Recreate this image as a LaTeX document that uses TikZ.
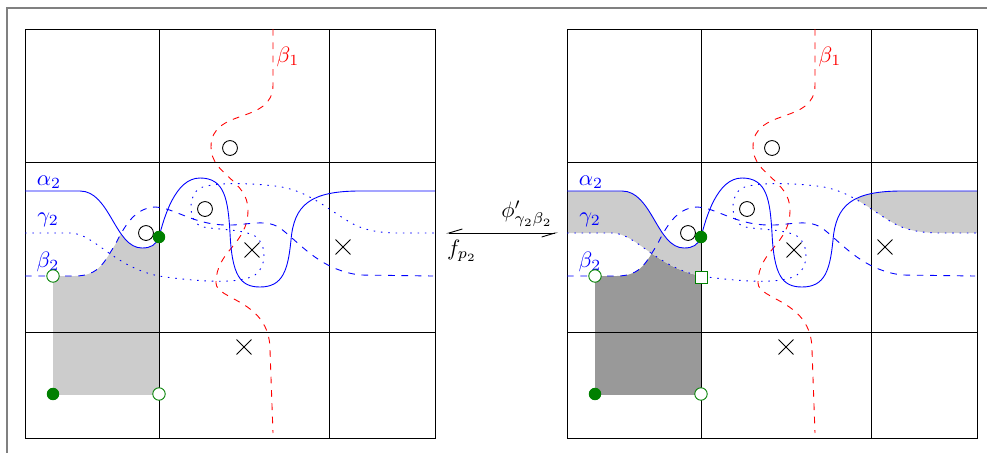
\documentclass[tikz,border=0pt]{standalone}
\usepackage{amsmath}
\usepackage{amssymb}
\usetikzlibrary{arrows.meta,shapes.misc}

% the four curves of one panel
\newcommand{\alphacurve}{(25,191) -- (80,191) .. controls (110,191) and (115,248) .. (142,248) .. controls (151,248) and (156,245) .. (159,237) .. controls (164,218) and (175,178) .. (200,178) .. controls (225,178) and (228,200) .. (230,233) .. controls (232,275) and (240,287) .. (260,287) .. controls (283,287) and (288,270) .. (291,240) .. controls (294,205) and (310,191) .. (360,191) -- (435,191)}
\newcommand{\gammacurve}{(25,233) -- (70,233) .. controls (95,233) and (115,270) .. (165,277) .. controls (205,282) and (240,284) .. (255,275) .. controls (266,268) and (268,245) .. (255,236) .. controls (240,228) and (210,230) .. (200,226) .. controls (188,220) and (188,195) .. (200,188) .. controls (215,182) and (250,183) .. (275,186) .. controls (310,190) and (330,212) .. (355,225) .. controls (370,232) and (385,233) .. (400,233) -- (435,233)}
\newcommand{\betacurve}{(25,276) -- (75,276) .. controls (100,276) and (105,260) .. (115,245) .. controls (125,225) and (135,208) .. (155,207) .. controls (175,208) and (192,224) .. (225,225) .. controls (245,226) and (265,218) .. (280,228) .. controls (300,243) and (320,270) .. (360,275) -- (433,276)}
\newcommand{\betaonecurve}{(273,29) -- (273,85) .. controls (273,125) and (211,107) .. (211,147) .. controls (211,175) and (248,180) .. (248,210) .. controls (248,245) and (216,250) .. (216,283) .. controls (216,300) and (270,300) .. (270,350) -- (273,433)}

% grid, curves, labels and marks of one panel
\newcommand{\panelbase}{%
	\draw [gridline] (25,29) rectangle (435,438);
	\draw [gridline] (159,29) -- (159,438);
	\draw [gridline] (329,29) -- (329,438);
	\draw [gridline] (25,162) -- (435,162);
	\draw [gridline] (25,332) -- (435,332);
	\draw [redline] \betaonecurve;
	\draw [blueline] \alphacurve;
	\draw [blueline, dotline] \gammacurve;
	\draw [blueline, dashed] \betacurve;
	\node [text=red] (b1) at (288,57) {$\beta_1$};
	\node [text=blue] (a2) at (49,182) {$\alpha_2$};
	\node [text=blue] (g2) at (48,220) {$\gamma_2$};
	\node [text=blue] (b2) at (48,262) {$\beta_2$};
	\node [hole] (o1) at (230,148) {};
	\node [hole] (o2) at (205,209) {};
	\node [hole] (o3) at (146,233) {};
	\node [puncture] (x1) at (252,250) {};
	\node [puncture] (x2) at (343,247) {};
	\node [puncture] (x3) at (244,347) {};
	\node [gendot] (d1) at (159,237) {};
	\node [gendot] (d2) at (53,394) {};
	\node [genring] (r1) at (53,276) {};
	\node [genring] (r2) at (159,394) {};
}

\begin{document}
\begin{tikzpicture}[x=0.45pt, y=-0.45pt,
		gridline/.style={black, line width=0.4pt},
		redline/.style={red, dashed},
		blueline/.style={blue},
		dotline/.style={dash pattern=on 0.7pt off 2.6pt},
		lightshade/.style={black!20},
		darkshade/.style={black!40},
		hole/.style={circle, draw=black, fill=white, minimum size=6.7pt},
		puncture/.style={cross out, draw=black, minimum size=6.3pt},
		gendot/.style={circle, fill=green!50!black, minimum size=5.6pt},
		genring/.style={circle, draw=green!50!black, fill=white, minimum size=5.6pt},
		genbox/.style={rectangle, draw=green!50!black, fill=white, minimum size=5.4pt}]
		\tikzstyle{every node}+=[inner sep=0pt]
		\useasboundingbox (0,0) rectangle (987,452);
		\clip (0,0) rectangle (987,452);
		\draw [gray, line width=0.6pt] (7,8) rectangle (1100,600);

		% left panel
		\begin{scope}[name prefix=L-]
			\begin{scope}
				\clip (53,0) rectangle (159,394);
				\clip \betacurve -- (435,450) -- (25,450) -- cycle;
				\clip \alphacurve -- (435,450) -- (25,450) -- cycle;
				\fill [lightshade] (25,0) rectangle (435,450);
			\end{scope}
			\panelbase
		\end{scope}

		% right panel
		\begin{scope}[shift={(542,0)}, name prefix=R-]
			\begin{scope}
				\clip (53,0) rectangle (159,394);
				\clip \betacurve -- (435,450) -- (25,450) -- cycle;
				\clip \gammacurve -- (435,450) -- (25,450) -- cycle;
				\fill [darkshade] (25,0) rectangle (435,450);
			\end{scope}
			\begin{scope}
				\clip (25,0) rectangle (159,450);
				\clip \alphacurve -- (435,450) -- (25,450) -- cycle;
				\clip \gammacurve -- (435,0) -- (25,0) -- cycle;
				\fill [lightshade] (25,0) rectangle (435,450);
			\end{scope}
			\begin{scope}
				\clip (290,0) rectangle (435,450);
				\clip \alphacurve -- (435,450) -- (25,450) -- cycle;
				\clip \gammacurve -- (435,0) -- (25,0) -- cycle;
				\fill [lightshade] (25,0) rectangle (435,450);
			\end{scope}
			\panelbase
			\node [genbox] (s1) at (159,277) {};
		\end{scope}

		% map between the panels
		\coordinate (mapL) at (446,233);
		\coordinate (mapR) at (558,233);
		\draw [{Straight Barb[right, length=6pt, width=3.6pt]}-{Straight Barb[right, length=6pt, width=3.6pt]}] (mapL) -- (mapR);
		\node (phi) at (527,214) {$\phi'_{\gamma_2\beta_2}$};
		\node (fp) at (462,251) {$f_{p_2}$};
	\end{tikzpicture}
\end{document}
